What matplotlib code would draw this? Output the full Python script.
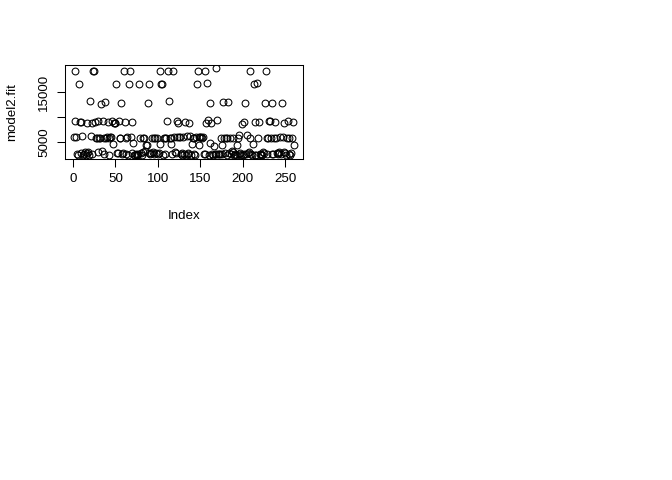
import matplotlib
matplotlib.use("Agg")
import matplotlib.pyplot as plt
import numpy as np

fit = [
    6000, 19300, 9300, 6000, 2700, 2500, 16700, 9100, 3000, 9100,
    6200, 2600, 2800, 3200, 2500, 2900, 8900, 3100, 2600, 13300,
    6300, 8900, 2700, 19300, 19300, 9100, 5900, 5900, 9300, 3200,
    5900, 5900, 12700, 3300, 9300, 5900, 2800, 13000, 5900, 6000,
    9100, 2600, 5900, 6000, 6000, 9300, 4600, 8900, 8900, 8900,
    16700, 2900, 3000, 9300, 5900, 5900, 12900, 2700, 3000, 19300,
    9000, 5900, 2800, 6100, 2600, 16700, 19300, 6000, 9000, 2900,
    4800, 2600, 2500, 2800, 2600, 2500, 2700, 16600, 5900, 2900,
    2600, 5900, 3100, 5900, 3300, 4500, 4500, 12800, 16600, 3000,
    2700, 2900, 5900, 3100, 5900, 2800, 5900, 3000, 5900, 2700,
    2900, 19300, 4600, 16600, 16600, 2600, 5900, 2800, 5900, 5900,
    9300, 19300, 13300, 5900, 5900, 4700, 2700, 19300, 6000, 3200,
    2900, 9300, 6000, 8900, 6100, 6100, 2700, 2500, 3000, 6000,
    2800, 9100, 2600, 6200, 2700, 2900, 8900, 6200, 2600, 4700,
    5900, 5900, 2800, 2600, 6000, 16700, 19300, 6000, 4500, 6000,
    6100, 5900, 6000, 2800, 19300, 2700, 8900, 16900, 9500, 2500,
    4800, 12900, 8900, 2700, 2600, 4400, 2700, 19750, 2800, 9500,
    2800, 2700, 2800, 5900, 4500, 2700, 13000, 5900, 2900, 5900,
    2600, 5900, 13000, 2900, 5900, 2800, 3300, 5900, 3100, 2600,
    2800, 2500, 4500, 5900, 2700, 6400, 3000, 2600, 8700, 2500,
    9000, 2800, 12900, 2700, 6400, 2900, 3100, 19300, 5900, 2700,
    2600, 4700, 16600, 9100, 2600, 2500, 16900, 5900, 9100, 2700,
    2500, 2700, 2600, 3100, 2900, 12900, 19300, 5900, 2700, 5900,
    9300, 9300, 5900, 2800, 12800, 2700, 5900, 9100, 5900, 3000,
    2900, 2700, 3100, 6000, 2800, 12800, 6000, 3200, 8900, 2900,
    2600, 5900, 9200, 5900, 2700, 2500, 2900, 5900, 9000, 4500,
]
xticks = [0, 50, 100, 150, 200, 250]
yticks = [5000, 10000, 15000]
ytick_labels = ["5000", "", "15000"]

plt.rcParams['font.family'] = ['Liberation Sans', 'DejaVu Sans']

W, H = 672, 480
fig = plt.figure(figsize=(W / 100, H / 100), dpi=100)
left, right, top, bottom = 65, 302.5, 65, 158.5
ax = fig.add_axes([left / W, 1 - bottom / H, (right - left) / W, (bottom - top) / H])

idx = np.arange(1, len(fit) + 1)
y = np.array(fit, dtype=float)
ax.plot(idx, y, linestyle='none', marker='o', markersize=4.9,
        markerfacecolor='none', markeredgecolor='black', markeredgewidth=0.75)

n = len(fit)
xr = n - 1
ax.set_xlim(1 - 0.04 * xr, n + 0.04 * xr)
yr = y.max() - y.min()
ax.set_ylim(y.min() - 0.04 * yr, y.max() + 0.04 * yr)

ax.set_xticks(xticks)
ax.set_yticks(yticks)
ax.set_yticklabels(ytick_labels, rotation=90, va='center')
ax.tick_params(axis='both', direction='out', length=5.8, width=0.75,
               labelsize=9.6)
ax.tick_params(axis='x', pad=5)
ax.tick_params(axis='y', pad=5)
for s in ax.spines.values():
    s.set_linewidth(0.75)

ax.set_xlabel('Index', fontsize=9.6)
ax.set_ylabel('model2.fit', fontsize=9.6)
ax.xaxis.set_label_coords(0.5, -(216 - bottom) / (bottom - top))
ax.xaxis.label.set_va('center')
ax.yaxis.set_label_coords(-(left - 12) / (right - left), 0.5)
ax.yaxis.label.set_va('center')

fig.savefig('out.png', dpi=100)
